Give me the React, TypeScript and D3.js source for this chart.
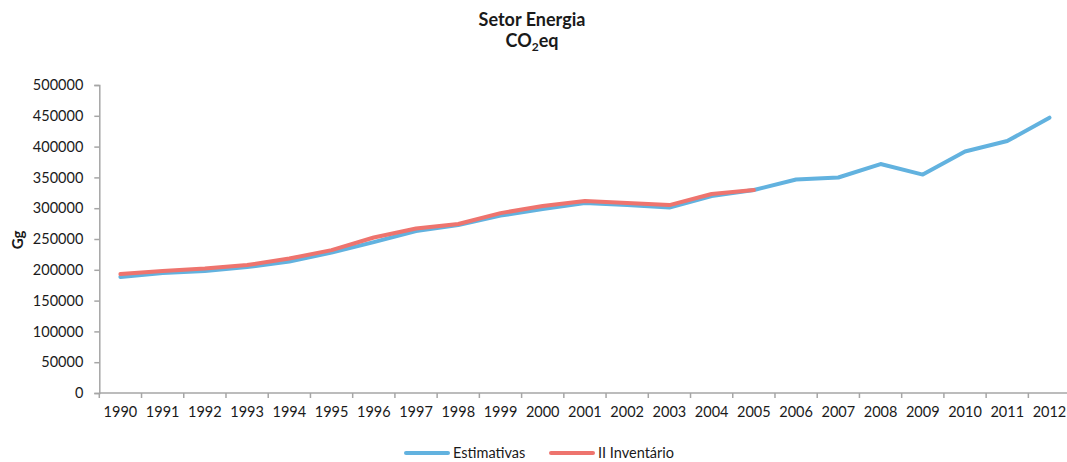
import { useEffect, useRef } from "react";
import * as d3 from "d3";

// years on the category axis
const years = [
  "1990", "1991", "1992", "1993", "1994", "1995", "1996", "1997", "1998", "1999", "2000", "2001",
  "2002", "2003", "2004", "2005", "2006", "2007", "2008", "2009", "2010", "2011", "2012",
];

// Estimativas (Gg CO2eq), 1990-2012
const estimativas = [
  188300, 194800, 198000, 204500, 213400, 228000, 245000, 263000, 272700, 288000, 298600, 308400,
  305000, 301000, 319700, 329500, 346500, 349800, 371700, 354600, 392000, 409000, 447000,
];

// II Inventário (Gg CO2eq), 1990-2005
const inventario = [
  193000, 198000, 202000, 207700, 218300, 232000, 252400, 267000, 274300, 292000, 303500, 311600,
  308400, 305000, 323000, 329500,
];

const yTicks = [0, 50000, 100000, 150000, 200000, 250000, 300000, 350000, 400000, 450000, 500000];

const series = [
  { name: "Estimativas", values: estimativas, color: "#62B2DF" },
  { name: "II Inventário", values: inventario, color: "#EE746E" },
];

const W = 1067;
const H = 462;
const AXIS = "#A6A6A6";
const INK = "#1a1a1a";
const FONT = "Lato, 'Open Sans', sans-serif";

export default function App() {
  const svgRef = useRef<SVGSVGElement>(null);

  useEffect(() => {
    const svg = d3.select(svgRef.current);
    svg.selectAll("*").remove(); // clear previous render

    const x = d3.scaleBand().domain(years).range([99.3, 99.3 + 23 * 42.23]);
    const y = d3.scaleLinear().domain([0, 500000]).range([393, 85]);

    // title, two lines
    const titleText = (yPos: number) =>
      svg
        .append("text")
        .attr("x", 532)
        .attr("y", yPos)
        .attr("text-anchor", "middle")
        .attr("font-family", FONT)
        .attr("font-weight", "bold")
        .attr("font-size", 18)
        .attr("fill", INK);
    titleText(26).text("Setor Energia");
    const t2 = titleText(47);
    t2.append("tspan").text("CO");
    t2.append("tspan").attr("font-size", 12).attr("dy", 4).text("2");
    t2.append("tspan").attr("dy", -4).text("eq");

    // y axis title
    svg
      .append("text")
      .attr("transform", "translate(23,240) rotate(-90)")
      .attr("text-anchor", "middle")
      .attr("font-family", FONT)
      .attr("font-weight", "bold")
      .attr("font-size", 15)
      .attr("fill", INK)
      .text("Gg");

    // y axis
    const yAxis = svg
      .append("g")
      .attr("transform", "translate(99.3,0)")
      .call(d3.axisLeft(y).tickValues(yTicks).tickSize(5).tickPadding(11).tickFormat(d3.format("d")));
    yAxis.select(".domain").attr("stroke", AXIS).attr("stroke-width", 1.5);
    yAxis.selectAll(".tick line").attr("stroke", AXIS).attr("stroke-width", 1.5);
    yAxis
      .selectAll(".tick text")
      .attr("fill", INK)
      .attr("font-family", FONT)
      .attr("font-size", 14.5);

    // x axis: ticks sit between categories
    const xAxis = svg.append("g").attr("transform", "translate(0,393)");
    xAxis
      .append("line")
      .attr("x1", 99.3)
      .attr("x2", W)
      .attr("stroke", AXIS)
      .attr("stroke-width", 1.5);
    xAxis
      .selectAll("line.tk")
      .data(years)
      .enter()
      .append("line")
      .attr("class", "tk")
      .attr("x1", (d) => x(d)!)
      .attr("x2", (d) => x(d)!)
      .attr("y1", 0)
      .attr("y2", 5)
      .attr("stroke", AXIS)
      .attr("stroke-width", 1.5);
    xAxis
      .selectAll("text")
      .data(years)
      .enter()
      .append("text")
      .attr("x", (d) => x(d)! + x.bandwidth() / 2)
      .attr("y", 24)
      .attr("text-anchor", "middle")
      .attr("fill", INK)
      .attr("font-family", FONT)
      .attr("font-size", 14.5)
      .text((d) => d);

    const line = d3
      .line<number>()
      .x((_, i) => x(years[i])! + x.bandwidth() / 2)
      .y((d) => y(d));

    svg
      .selectAll("path.series")
      .data(series)
      .enter()
      .append("path")
      .attr("class", "series")
      .attr("d", (d) => line(d.values))
      .attr("fill", "none")
      .attr("stroke", (d) => d.color)
      .attr("stroke-width", 4)
      .attr("stroke-linejoin", "round")
      .attr("stroke-linecap", "round");

    // legend
    const legend = svg
      .selectAll("g.legend")
      .data(series)
      .enter()
      .append("g")
      .attr("class", "legend")
      .attr("transform", (_, i) => `translate(${[406, 551][i]},453)`);
    legend
      .append("line")
      .attr("x1", 0)
      .attr("x2", 42)
      .attr("stroke", (d) => d.color)
      .attr("stroke-width", 4)
      .attr("stroke-linecap", "round");
    legend
      .append("text")
      .attr("x", 47)
      .attr("y", 5)
      .attr("fill", INK)
      .attr("font-family", FONT)
      .attr("font-size", 14.5)
      .text((d) => d.name);
  }, []);

  return (
    <svg
      ref={svgRef}
      width={W}
      height={H}
      style={{ position: "absolute", left: 0, top: 0, background: "#fff" }}
    />
  );
}
